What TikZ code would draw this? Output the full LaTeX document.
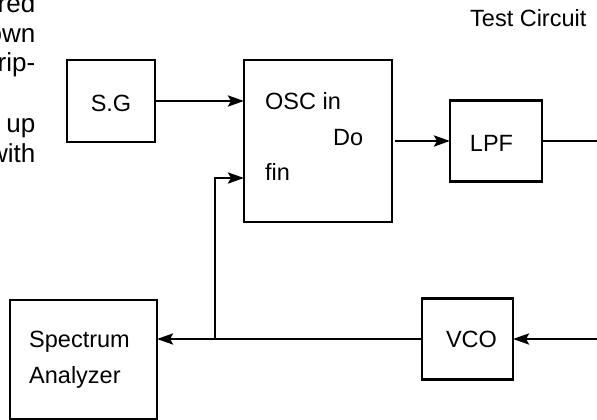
\documentclass[tikz,border=0pt]{standalone}
\usepackage{fontspec}
\setmainfont{Liberation Sans}
\usetikzlibrary{arrows.meta,calc}
\begin{document}
\begin{tikzpicture}[x=1pt,y=-1pt,
  every node/.style={inner sep=0pt},
  blk/.style={draw,line width=2.8pt,inner sep=0pt,outer sep=0pt},
  lbl/.style={font=\fontsize{23.5}{28}\selectfont,inner sep=0pt},
  frag/.style={font=\fontsize{26}{30}\selectfont,inner sep=0pt,anchor=base east},
  wire/.style={line width=2.8pt},
  arr/.style={wire,-{Stealth[length=16pt,width=11pt,inset=3pt]}}]
\useasboundingbox (0,0) rectangle (597,420);
\clip (0,0) rectangle (597,420);
% cropped page text fragments
\node[frag] (f1) at (35.5,13) {red};
\node[frag] (f2) at (35.5,43) {own};
\node[frag] (f3) at (35.5,72) {rip-};
\node[frag] (f4) at (35.5,132) {up};
\node[frag] (f5) at (35.5,162) {with};
\node[lbl,anchor=base west] (title) at (470,27) {Test Circuit};
% blocks
\node[blk,minimum width=88pt,minimum height=82pt] (SG) at (111,101) {};
\node[blk,minimum width=148pt,minimum height=162pt] (OSC) at (318,141) {};
\node[blk,minimum width=92pt,minimum height=81pt] (LPF) at (496,141) {};
\node[blk,minimum width=91pt,minimum height=81pt] (VCO) at (467.5,339) {};
\node[blk,minimum width=147pt,minimum height=119pt] (SA) at (83.5,359.5) {};
% texts
\node[lbl,anchor=base] (tSG) at (111,111) {S.G};
\node[lbl,anchor=base west] (tOSC) at (265,109) {OSC in};
\node[lbl,anchor=base west] (tDo) at (333,145) {Do};
\node[lbl,anchor=base west] (tfin) at (265,180) {fin};
\node[lbl,anchor=base] (tLPF) at (491.5,151) {LPF};
\node[lbl,anchor=base] (tVCO) at (471.5,347) {VCO};
\node[lbl,anchor=base west] (tSA1) at (29,347) {Spectrum};
\node[lbl,anchor=base west] (tSA2) at (29,383) {Analyzer};
% free ends
\coordinate (outR) at (598,141);
\coordinate (inR) at (598,339);
\coordinate (jn) at (215,339);
% connectors
\draw[arr] (SG.east) -- (SG.east -| OSC.west);
\draw[arr,shorten <=3pt] (OSC.east) -- (LPF.west);
\draw[wire] (LPF.east) -- (outR);
\draw[arr] (inR) -- (VCO.east);
\draw[arr] (VCO.west) -- (VCO.west -| SA.east);
\draw[arr] (jn) |- ([yshift=-37pt]OSC.west);
\end{tikzpicture}
\end{document}
